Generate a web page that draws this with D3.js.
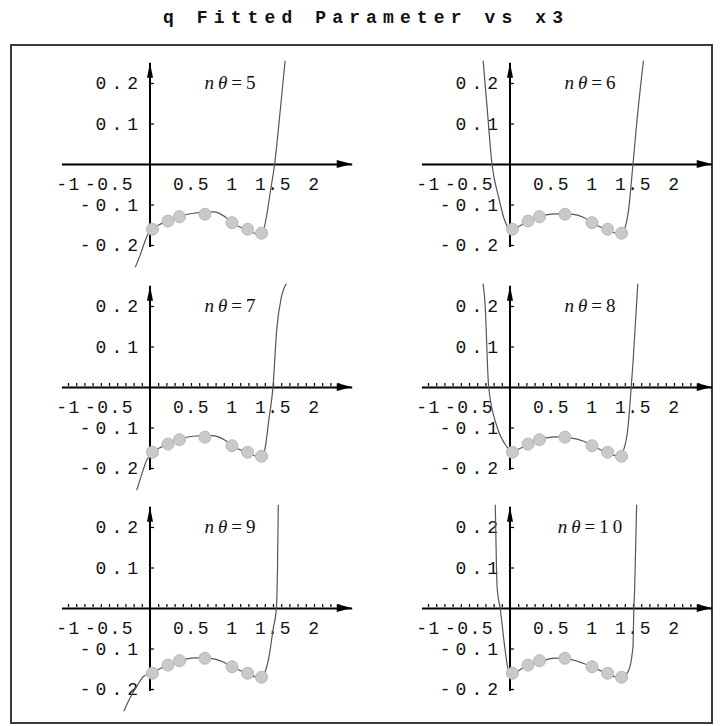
<!DOCTYPE html>
<html>
<head>
<meta charset="utf-8">
<script src="https://cdn.jsdelivr.net/npm/d3@7"></script>
<style>
  html, body { margin: 0; padding: 0; background: #fff; }
  svg { display: block; }
</style>
</head>
<body>
<svg id="chart" width="722" height="726"></svg>
<script>
// ---- data ----
const chartTitle = "q Fitted Parameter vs x3";
const nTheta = [5, 6, 7, 8, 9, 10];
const xTickValues = [-1, -0.5, 0.5, 1, 1.5, 2];
const yTickValues = [-0.2, -0.1, 0.1, 0.2];
const minorTickValues = [-1, -0.9, -0.8, -0.7, -0.6, -0.5, -0.4, -0.3, -0.2, -0.1, 0.1, 0.2, 0.3, 0.4, 0.5, 0.6, 0.7, 0.8, 0.9, 1, 1.1, 1.2, 1.3, 1.4, 1.5, 1.6, 1.7, 1.8, 1.9, 2, 2.1, 2.2, 2.3];

// measured q values at each x3
const x3Points = [0.03, 0.22, 0.36, 0.67, 1.0, 1.19, 1.36];
const qPoints = [-0.161, -0.141, -0.130, -0.124, -0.145, -0.161, -0.171];

// fitted curves, one per n-theta, as [x3, q] samples
const fitN5 = [[-0.19, -0.26], [-0.12, -0.225], [-0.06, -0.19], [0.0, -0.164], [0.1, -0.151], [0.22, -0.141], [0.36, -0.129], [0.55, -0.121], [0.78, -0.118], [0.92, -0.131], [1.0, -0.145], [1.19, -0.163], [1.3, -0.172], [1.37, -0.170], [1.42, -0.13], [1.47, -0.065], [1.52, 0.0], [1.58, 0.115], [1.65, 0.26]];
const fitN6 = [[-0.33, 0.26], [-0.28, 0.141], [-0.22, 0.0], [-0.14, -0.081], [-0.06, -0.142], [0.02, -0.165], [0.1, -0.155], [0.22, -0.142], [0.36, -0.130], [0.55, -0.123], [0.75, -0.124], [0.9, -0.132], [1.0, -0.145], [1.19, -0.163], [1.3, -0.171], [1.37, -0.168], [1.44, -0.122], [1.50, 0.0], [1.545, 0.1], [1.63, 0.26]];
const fitN7 = [[-0.17, -0.26], [-0.1, -0.215], [-0.04, -0.18], [0.03, -0.162], [0.12, -0.150], [0.22, -0.141], [0.36, -0.129], [0.55, -0.121], [0.75, -0.120], [0.92, -0.132], [1.0, -0.145], [1.19, -0.162], [1.3, -0.171], [1.37, -0.169], [1.40, -0.155], [1.45, -0.08], [1.50, 0.0], [1.545, 0.141], [1.6, 0.22], [1.68, 0.26]];
const fitN8 = [[-0.33, 0.26], [-0.305, 0.207], [-0.26, 0.0], [-0.16, -0.097], [-0.04, -0.147], [0.03, -0.161], [0.12, -0.152], [0.22, -0.142], [0.36, -0.130], [0.55, -0.123], [0.72, -0.125], [0.9, -0.134], [1.0, -0.145], [1.19, -0.162], [1.3, -0.170], [1.35, -0.168], [1.38, -0.159], [1.44, -0.097], [1.47, -0.023], [1.50, 0.06], [1.56, 0.26]];
const fitN9 = [[-0.33, -0.26], [-0.244, -0.222], [-0.15, -0.19], [-0.08, -0.169], [0.03, -0.160], [0.12, -0.150], [0.22, -0.141], [0.36, -0.130], [0.55, -0.123], [0.72, -0.124], [0.9, -0.134], [1.0, -0.145], [1.19, -0.162], [1.3, -0.171], [1.36, -0.172], [1.40, -0.160], [1.46, -0.11], [1.50, -0.054], [1.54, -0.004], [1.555, 0.1], [1.565, 0.26]];
const fitN10 = [[-0.18, 0.26], [-0.165, 0.1], [-0.155, 0.045], [-0.12, 0.0], [-0.06, -0.103], [-0.02, -0.152], [0.05, -0.161], [0.14, -0.150], [0.24, -0.140], [0.36, -0.133], [0.55, -0.124], [0.72, -0.126], [0.9, -0.137], [1.0, -0.146], [1.19, -0.162], [1.3, -0.171], [1.36, -0.170], [1.44, -0.157], [1.50, -0.095], [1.51, -0.004], [1.52, 0.045], [1.545, 0.26]];
const fitCurves = [fitN5, fitN6, fitN7, fitN8, fitN9, fitN10];

// ---- layout ----
const W = 722, H = 726;
const xDomain = [-1.08, 2.46];
const yDomain = [-0.255, 0.255];
const pxPerX = 82, pxPerY = 405;
const colOrigin = [150, 510];
const rowOrigin = [164, 387, 608];
const monoFont = "'Liberation Mono', 'DejaVu Sans Mono', monospace";

const svg = d3.select("#chart");
svg.append("rect").attr("width", W).attr("height", H).attr("fill", "#fff");

svg.append("text")
  .attr("x", 363).attr("y", 23)
  .attr("text-anchor", "middle")
  .attr("font-family", monoFont)
  .attr("font-weight", "bold")
  .attr("font-size", 18)
  .attr("fill", "#111")
  .attr("textLength", 400)
  .attr("lengthAdjust", "spacing")
  .text(chartTitle);

svg.append("rect")
  .attr("x", 11).attr("y", 45)
  .attr("width", 701).attr("height", 678)
  .attr("fill", "none")
  .attr("stroke", "#3a3a3a")
  .attr("stroke-width", 2);

const defs = svg.append("defs");

nTheta.forEach((n, i) => {
  const col = i % 2, row = Math.floor(i / 2);
  const ox = colOrigin[col], oy = rowOrigin[row];

  const x = d3.scaleLinear().domain(xDomain)
    .range([ox + xDomain[0] * pxPerX, ox + xDomain[1] * pxPerX]);
  const y = d3.scaleLinear().domain(yDomain)
    .range([oy - yDomain[0] * pxPerY, oy - yDomain[1] * pxPerY]);

  const clipId = "plot-clip-" + i;
  defs.append("clipPath").attr("id", clipId)
    .append("rect")
    .attr("x", x.range()[0]).attr("y", y.range()[1])
    .attr("width", x.range()[1] - x.range()[0])
    .attr("height", y.range()[0] - y.range()[1]);

  const g = svg.append("g").attr("class", "panel");

  // x axis with labels
  const xAxisG = g.append("g")
    .attr("transform", `translate(0,${y(0)})`)
    .call(d3.axisBottom(x)
      .tickValues(xTickValues)
      .tickSize(0).tickSizeOuter(0)
      .tickPadding(13)
      .tickFormat(d => String(d)));
  xAxisG.select(".domain").attr("stroke", "#000").attr("stroke-width", 2);
  xAxisG.selectAll("text")
    .attr("font-family", monoFont)
    .attr("font-size", 18)
    .attr("letter-spacing", 1.5)
    .attr("fill", "#111");

  // minor ticks along the x axis (lower rows)
  if (row > 0) {
    const minorG = g.append("g")
      .attr("transform", `translate(0,${y(0) - 1})`)
      .call(d3.axisTop(x).tickValues(minorTickValues).tickSize(3).tickSizeOuter(0).tickFormat(""));
    minorG.select(".domain").remove();
    minorG.selectAll("line").attr("stroke", "#000").attr("stroke-width", 1.2);
  }

  // y axis
  const yAxisG = g.append("g")
    .attr("transform", `translate(${x(0)},0)`)
    .call(d3.axisLeft(y)
      .tickValues(yTickValues)
      .tickSize(-4).tickSizeOuter(0)
      .tickPadding(7)
      .tickFormat(d => String(d)));
  yAxisG.select(".domain").remove();
  yAxisG.selectAll("line").attr("stroke", "#000").attr("stroke-width", 1.2);
  yAxisG.selectAll("text")
    .attr("font-family", monoFont)
    .attr("font-size", 18)
    .attr("letter-spacing", 5)
    .attr("fill", "#111");

  g.append("line")
    .attr("x1", x(0)).attr("x2", x(0))
    .attr("y1", y(-0.205)).attr("y2", y(0.25))
    .attr("stroke", "#000").attr("stroke-width", 2);

  // axis end markers
  const xe = x(xDomain[1]), ye = y(0);
  g.append("path")
    .attr("d", `M${xe - 15},${ye - 4}L${xe},${ye}L${xe - 15},${ye + 4}Z`)
    .attr("fill", "#000");
  const ya = y(0.25), xa = x(0);
  g.append("path")
    .attr("d", `M${xa - 3},${ya + 15}L${xa},${ya}L${xa + 3},${ya + 15}Z`)
    .attr("fill", "#000");

  // fitted curve
  const line = d3.line()
    .x(d => x(d[0]))
    .y(d => y(d[1]))
    .curve(d3.curveMonotoneX);
  g.append("path")
    .datum(fitCurves[i])
    .attr("clip-path", `url(#${clipId})`)
    .attr("d", line)
    .attr("fill", "none")
    .attr("stroke", "#555")
    .attr("stroke-width", 1.2);

  // measured points
  g.selectAll("circle.pt")
    .data(x3Points.map((v, k) => [v, qPoints[k]]))
    .join("circle")
    .attr("class", "pt")
    .attr("cx", d => x(d[0]))
    .attr("cy", d => y(d[1]))
    .attr("r", 6)
    .attr("fill", "#c9c9c9")
    .attr("stroke", "#b8b8b8")
    .attr("stroke-width", 1);

  // panel label
  const lab = g.append("text")
    .attr("x", x(1.0)).attr("y", y(0.2) + 6)
    .attr("text-anchor", "middle")
    .attr("font-family", "'Liberation Serif', serif")
    .attr("font-size", 19)
    .attr("letter-spacing", 4)
    .attr("fill", "#111");
  lab.append("tspan").attr("font-style", "italic").text("n\u03B8");
  lab.append("tspan").text("=" + n);
});
</script>
</body>
</html>
